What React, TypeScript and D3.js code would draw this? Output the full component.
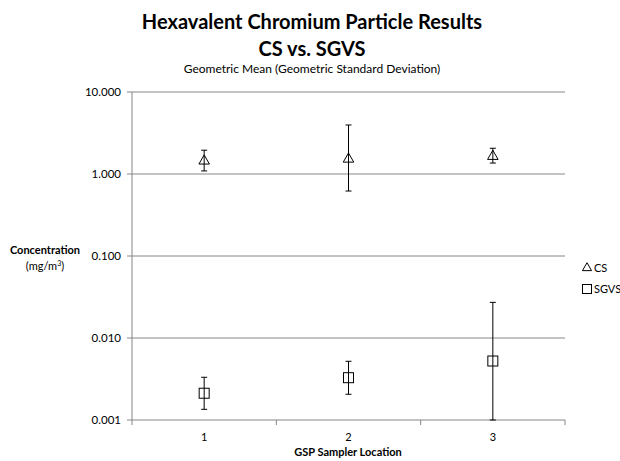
import React from "react";
import * as d3 from "d3";

const categories = ["1", "2", "3"];
const csMean = [1.44, 1.52, 1.64];
const csLow = [1.09, 0.62, 1.36];
const csHigh = [1.95, 3.96, 2.06];
const sgvsMean = [0.00212, 0.00328, 0.00524];
const sgvsLow = [0.00135, 0.00206, 0.001];
const sgvsHigh = [0.00332, 0.0052, 0.0272];
const yTicks = [0.001, 0.01, 0.1, 1, 10];

const W = 620, H = 461;
const left = 132, right = 565, top = 92, bottom = 420;
const font = "Lato, 'Open Sans', sans-serif";

export default function App() {
  const x = d3.scaleBand<string>().domain(categories).range([left, right]);
  const y = d3.scaleLog().domain([0.001, 10]).range([bottom, top]);
  const cx = (i: number) => (x(categories[i]) as number) + x.bandwidth() / 2;
  const tri = d3.symbol().type(d3.symbolTriangle).size(48)();
  const sq = 5;

  const errBar = (i: number, lo: number, hi: number, key: string) => {
    const X = cx(i);
    return (
      <g key={key} stroke="#000" strokeWidth={1}>
        <line x1={X} x2={X} y1={y(lo)} y2={y(hi)} />
        <line x1={X - 3} x2={X + 3} y1={y(lo)} y2={y(lo)} />
        <line x1={X - 3} x2={X + 3} y1={y(hi)} y2={y(hi)} />
      </g>
    );
  };

  const edges = [...categories.map((c) => x(c) as number), right];

  return (
    <svg width={W} height={H} style={{ position: "absolute", left: 0, top: 0 }} fontFamily={font}>
      <rect width={W} height={H} fill="#fff" />
      <text x={312} y={29} textAnchor="middle" fontSize={20} fontWeight="bold">Hexavalent Chromium Particle Results</text>
      <text x={312} y={56} textAnchor="middle" fontSize={20} fontWeight="bold">CS vs. SGVS</text>
      <text x={312} y={73} textAnchor="middle" fontSize={12}>Geometric Mean (Geometric Standard Deviation)</text>

      {yTicks.filter((t) => t > 0.001).map((t) => (
        <line key={t} x1={left} x2={right} y1={y(t)} y2={y(t)} stroke="#868686" strokeWidth={1} />
      ))}
      {yTicks.map((t) => (
        <g key={"t" + t}>
          <line x1={left - 5} x2={left} y1={y(t)} y2={y(t)} stroke="#868686" />
          <text x={121} y={y(t) + 4} textAnchor="end" fontSize={11.5}>{t.toFixed(3)}</text>
        </g>
      ))}
      <line x1={left} x2={left} y1={top} y2={bottom} stroke="#868686" />
      <line x1={left} x2={right} y1={bottom} y2={bottom} stroke="#868686" />
      {edges.map((e, i) => (
        <line key={"e" + i} x1={e} x2={e} y1={bottom} y2={bottom + 5} stroke="#868686" />
      ))}
      {categories.map((c, i) => (
        <text key={c} x={cx(i)} y={441} textAnchor="middle" fontSize={11}>{c}</text>
      ))}

      <text x={45} y={254} textAnchor="middle" fontSize={11} fontWeight="bold">Concentration</text>
      <text x={45} y={270} textAnchor="middle" fontSize={11}>(mg/m<tspan fontSize={7} dy={-4}>3</tspan><tspan dy={4}>)</tspan></text>
      <text x={348} y={456} textAnchor="middle" fontSize={11} fontWeight="bold">GSP Sampler Location</text>

      {categories.map((c, i) => errBar(i, csLow[i], csHigh[i], "ce" + i))}
      {categories.map((c, i) => errBar(i, sgvsLow[i], sgvsHigh[i], "se" + i))}
      {csMean.map((v, i) => (
        <path key={"cm" + i} d={tri as string} transform={`translate(${cx(i)},${y(v)})`} fill="none" stroke="#000" strokeWidth={1} />
      ))}
      {sgvsMean.map((v, i) => (
        <rect key={"sm" + i} x={cx(i) - sq} y={y(v) - sq} width={sq * 2} height={sq * 2} fill="none" stroke="#000" strokeWidth={1} />
      ))}

      <path d={d3.symbol().type(d3.symbolTriangle).size(36)() as string} transform="translate(587,268)" fill="none" stroke="#000" />
      <text x={594} y={272} fontSize={11}>CS</text>
      <rect x={582.5} y={284.5} width={9} height={9} fill="none" stroke="#000" />
      <text x={594} y={293} fontSize={11}>SGVS</text>
    </svg>
  );
}
